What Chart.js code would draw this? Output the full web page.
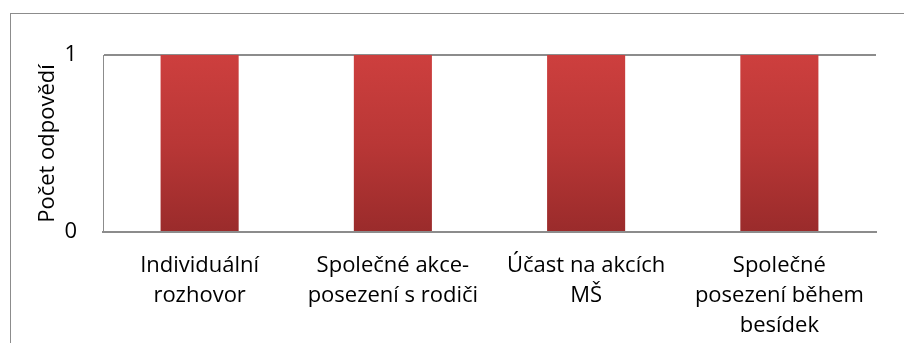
<!DOCTYPE html>
<html>
<head>
<meta charset="utf-8">
<script src="https://cdn.jsdelivr.net/npm/chart.js@4/dist/chart.umd.min.js"></script>
<style>
  html, body { margin: 0; padding: 0; background: #ffffff; }
  #wrap { width: 904px; height: 343px; }
</style>
</head>
<body>
<div id="wrap"><canvas id="c" width="904" height="343"></canvas></div>
<script>
// Categories (multi-line labels) and counts
const categories = [
  ["Individuální", "rozhovor"],
  ["Společné akce-", "posezení s rodiči"],
  ["Účast na akcích", "MŠ"],
  ["Společné", "posezení během", "besídek"]
];
const counts = [1, 1, 1, 1];
const yTicks = [0, 1];
const yTitle = "Počet odpovědí";

const FONT = "'Open Sans', 'DejaVu Sans', sans-serif";

// Outer frame of the chart object
const framePlugin = {
  id: 'frame',
  beforeDraw(chart) {
    const ctx = chart.ctx;
    ctx.save();
    ctx.fillStyle = '#ffffff';
    ctx.fillRect(0, 0, chart.width, chart.height);
    ctx.strokeStyle = '#8c8c8c';
    ctx.lineWidth = 1;
    ctx.strokeRect(10.5, 13.5, 1000, 1000);
    ctx.restore();
  }
};

// Vertical red gradient for the bars
function barGradient(context) {
  const chart = context.chart;
  const area = chart.chartArea;
  if (!area) return '#c03a3a';
  const g = chart.ctx.createLinearGradient(0, area.top, 0, area.bottom);
  g.addColorStop(0, '#cd3f3e');
  g.addColorStop(0.5, '#b93736');
  g.addColorStop(1, '#9a2b2b');
  return g;
}

new Chart(document.getElementById('c'), {
  type: 'bar',
  data: {
    labels: categories,
    datasets: [{
      data: counts,
      backgroundColor: barGradient,
      borderWidth: 0,
      categoryPercentage: 1.0,
      barPercentage: 0.404
    }]
  },
  plugins: [framePlugin],
  options: {
    responsive: false,
    animation: false,
    devicePixelRatio: 1,
    layout: { padding: { top: 55, right: 28, bottom: 0, left: 0 } },
    plugins: {
      legend: { display: false },
      tooltip: { enabled: false }
    },
    scales: {
      x: {
        grid: { display: false, drawTicks: false },
        border: { display: true, color: '#8c8c8c', width: 2 },
        ticks: {
          color: '#000000',
          font: { family: FONT, size: 22, lineHeight: 1.36 },
          padding: 19,
          maxRotation: 0,
          autoSkip: false
        },
        afterFit(scale) { scale.height = 111; }
      },
      y: {
        min: 0,
        max: 1,
        afterBuildTicks(scale) { scale.ticks = yTicks.map(v => ({ value: v })); },
        grid: {
          color: '#8c8c8c',
          lineWidth: 2,
          drawTicks: false
        },
        border: { display: true, color: '#8c8c8c', width: 1 },
        ticks: {
          color: '#000000',
          font: { family: FONT, size: 22 },
          padding: 26
        },
        title: {
          display: true,
          text: yTitle,
          color: '#000000',
          font: { family: FONT, size: 22 },
          padding: { top: 35, bottom: 0 }
        },
        afterFit(scale) { scale.width = 103; }
      }
    }
  }
});
</script>
</body>
</html>
